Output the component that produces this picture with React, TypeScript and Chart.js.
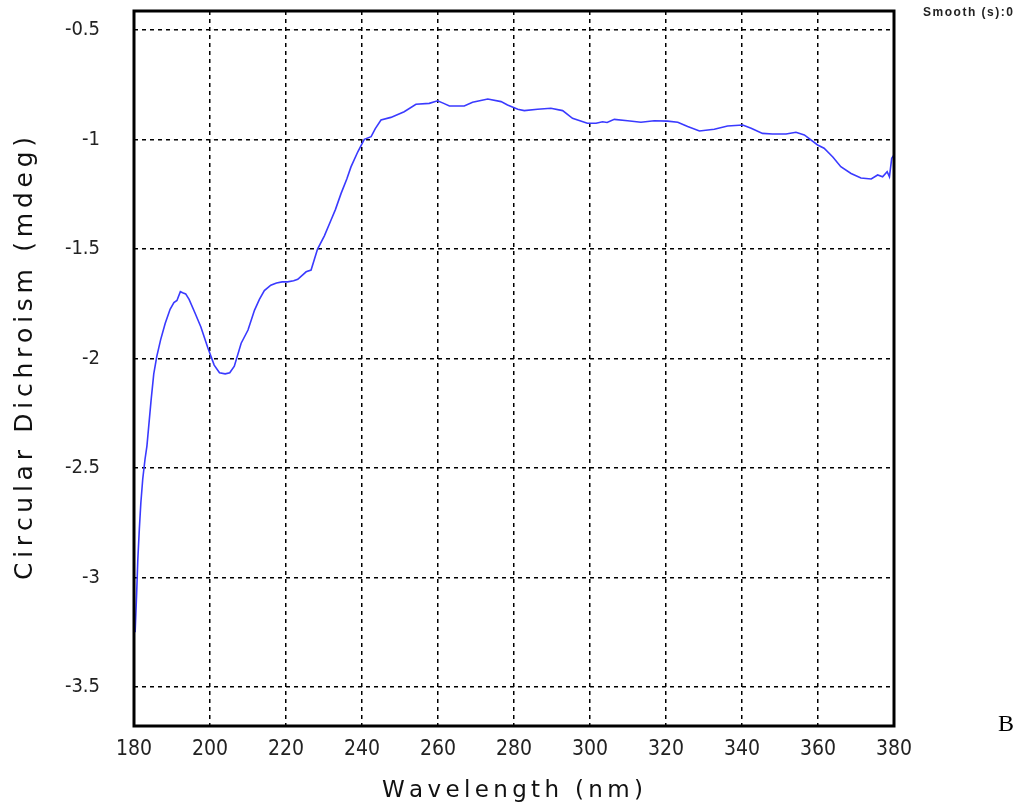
import React, { useEffect, useRef } from "react";
import { Chart, registerables } from "chart.js";

Chart.register(...registerables);

const wavelengths = [180.3, 180.7, 181.0, 181.4, 181.8, 182.3, 182.9, 183.4, 184.5, 185.2, 186, 187, 188.2, 189.5, 190.5, 191.3, 192.2, 192.8, 193.6, 194.5, 196, 197.6, 199.4, 201.1, 202.5, 204, 205.2, 206.4, 208.2, 210, 211.7, 213, 214.3, 216, 217.5, 219, 220.4, 222, 223.1, 225.3, 226.6, 228.3, 230.1, 231.8, 233, 234.5, 236, 237.1, 238.9, 240.6, 242.4, 243.5, 245, 247.6, 251.1, 254.2, 257.7, 259.9, 261.5, 263, 266.9, 269.1, 273.1, 276.6, 278.3, 281, 282.7, 286.2, 289.7, 292.8, 295.4, 299.3, 301.6, 303.3, 304.5, 306.4, 309.9, 313.4, 316.9, 320.4, 323.1, 325.7, 328.8, 332.7, 336.2, 340.2, 342.4, 345.4, 348, 351.6, 354.2, 356.4, 359.9, 361.6, 363.9, 366, 368.7, 371.3, 374, 375.7, 377, 378.2, 378.8, 379.4, 380];

const cdValues = [-3.25, -3.07, -2.92, -2.78, -2.66, -2.55, -2.46, -2.4, -2.19, -2.07, -1.99, -1.915, -1.84, -1.775, -1.745, -1.735, -1.695, -1.7, -1.705, -1.73, -1.79, -1.856, -1.95, -2.03, -2.065, -2.07, -2.065, -2.035, -1.93, -1.87, -1.78, -1.73, -1.69, -1.665, -1.655, -1.65, -1.65, -1.645, -1.638, -1.604, -1.596, -1.5, -1.44, -1.37, -1.32, -1.246, -1.18, -1.125, -1.056, -0.999, -0.987, -0.95, -0.911, -0.899, -0.873, -0.839, -0.835, -0.823, -0.835, -0.847, -0.847, -0.83, -0.815, -0.827, -0.842, -0.862, -0.868, -0.862, -0.857, -0.868, -0.903, -0.926, -0.926, -0.919, -0.922, -0.908, -0.914, -0.921, -0.914, -0.916, -0.921, -0.941, -0.961, -0.953, -0.938, -0.934, -0.949, -0.972, -0.975, -0.975, -0.967, -0.979, -1.025, -1.04, -1.08, -1.124, -1.155, -1.176, -1.18, -1.162, -1.17, -1.147, -1.17, -1.086, -1.07];

const xTicks = [180, 200, 220, 240, 260, 280, 300, 320, 340, 360, 380];
const yTicks = [-3.5, -3, -2.5, -2, -1.5, -1, -0.5];

const xTitle = "Wavelength (nm)";
const yTitle = "Circular Dichroism (mdeg)";
const cornerNote = "Smooth (s):0";
const panelLetter = "B";

function drawSpaced(ctx: CanvasRenderingContext2D, text: string, x: number, y: number, targetWidth: number) {
  const chars = Array.from(text);
  const widths = chars.map((c) => ctx.measureText(c).width);
  const total = widths.reduce((a, b) => a + b, 0);
  const gap = chars.length > 1 ? (targetWidth - total) / (chars.length - 1) : 0;
  let cx = x;
  chars.forEach((c, i) => {
    ctx.fillText(c, cx, y);
    cx += widths[i] + gap;
  });
}

const framePlugin = {
  id: "frameAndText",
  afterDraw(chart: any) {
    const { ctx, chartArea } = chart;
    ctx.save();
    ctx.strokeStyle = "#000";
    ctx.lineWidth = 3;
    ctx.setLineDash([]);
    ctx.strokeRect(chartArea.left, chartArea.top, chartArea.right - chartArea.left, chartArea.bottom - chartArea.top);

    ctx.fillStyle = "#111";
    ctx.textBaseline = "alphabetic";
    ctx.textAlign = "left";
    ctx.font = '23px "DejaVu Sans", "Liberation Sans", sans-serif';
    drawSpaced(ctx, xTitle, 382, 797, 261);

    ctx.save();
    ctx.translate(32, 580);
    ctx.rotate(-Math.PI / 2);
    ctx.font = '25px "DejaVu Sans", "Liberation Sans", sans-serif';
    drawSpaced(ctx, yTitle, 0, 0, 443);
    ctx.restore();

    ctx.fillStyle = "#222";
    ctx.font = 'bold 12px "Liberation Sans", Arial, sans-serif';
    drawSpaced(ctx, cornerNote, 923, 16, 90);

    ctx.fillStyle = "#000";
    ctx.font = '24px "Liberation Serif", "Times New Roman", serif';
    ctx.fillText(panelLetter, 998, 731);
    ctx.restore();
  },
};

const tickFamily = '"Liberation Sans Narrow", "DejaVu Sans Condensed", sans-serif';

export default function App() {
  const canvasRef = useRef<HTMLCanvasElement | null>(null);

  useEffect(() => {
    const canvas = canvasRef.current;
    if (!canvas) return;
    const points = wavelengths.map((w, i) => ({ x: w, y: cdValues[i] }));
    const chart = new Chart(canvas, {
      type: "line",
      data: {
        datasets: [
          {
            data: points,
            borderColor: "#3a3aff",
            borderWidth: 1.6,
            pointRadius: 0,
            tension: 0,
            fill: false,
          },
        ],
      },
      options: {
        responsive: false,
        animation: false,
        devicePixelRatio: 1,
        layout: { padding: { left: 0, top: 11, right: 125, bottom: 0 } },
        plugins: { legend: { display: false }, tooltip: { enabled: false } },
        scales: {
          x: {
            type: "linear",
            min: 180,
            max: 380,
            afterFit(scale: any) {
              scale.height = 86;
              scale.paddingLeft = 0;
              scale.paddingRight = 0;
            },
            afterBuildTicks(scale: any) {
              scale.ticks = xTicks.map((v) => ({ value: v }));
            },
            border: { display: false, dash: [4, 4] },
            grid: {
              color: "#000",
              lineWidth: 1.5,
              drawTicks: false,
            },
            ticks: {
              padding: 11,
              color: "#222",
              maxRotation: 0,
              font: { family: tickFamily, size: 21 },
              callback: (v: any) => String(v),
            },
          },
          y: {
            type: "linear",
            min: -3.678,
            max: -0.4132,
            afterFit(scale: any) {
              scale.width = 134;
              scale.paddingTop = 0;
              scale.paddingBottom = 0;
            },
            afterBuildTicks(scale: any) {
              scale.ticks = yTicks.map((v) => ({ value: v }));
            },
            border: { display: false, dash: [4, 4] },
            grid: {
              color: "#000",
              lineWidth: 1.5,
              drawTicks: false,
            },
            ticks: {
              padding: 34,
              color: "#222",
              font: { family: tickFamily, size: 20 },
              callback: (v: any) => String(v),
            },
          },
        },
      },
      plugins: [framePlugin],
    } as any);
    return () => chart.destroy();
  }, []);

  return (
    <div style={{ position: "absolute", left: 0, top: 0, width: 1019, height: 812, background: "#fff" }}>
      <canvas ref={canvasRef} width={1019} height={812} style={{ display: "block" }} />
    </div>
  );
}
